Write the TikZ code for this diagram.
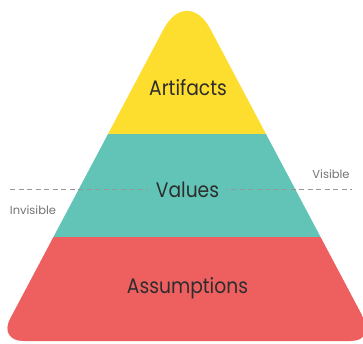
\documentclass[tikz,border=0pt]{standalone}
\usepackage{fontspec}
\setmainfont{Poppins}
\definecolor{pyellow}{RGB}{253,221,46}
\definecolor{pteal}{RGB}{98,196,182}
\definecolor{pred}{RGB}{238,96,96}
\definecolor{ptext}{RGB}{45,45,45}
\definecolor{pgray}{RGB}{115,115,115}
\definecolor{pdash}{RGB}{150,150,150}
\newcommand{\narrow}[1]{\scalebox{0.89}[1]{#1}}
\begin{document}
\begin{tikzpicture}[x=1pt,y=-1pt,
  layer/.style={font=\fontsize{21}{24}\selectfont, text=ptext, inner sep=2pt},
  side/.style={font=\fontsize{11.5}{13}\selectfont, text=pgray, inner sep=0pt},
  dashline/.style={draw=pdash, line width=0.8pt, dash pattern=on 5pt off 3.5pt}]
\useasboundingbox (0,0) rectangle (363,343);
\begin{scope}
  \clip (187,341) [rounded corners=25pt] -- (375.7,341) [rounded corners=50pt] -- (187,-15) [rounded corners=25pt] -- (-1.7,341) -- cycle;
  \fill[pyellow] (-10,-20) rectangle (380,134);
  \fill[pteal] (-10,134) rectangle (380,237);
  \fill[pred] (-10,237) rectangle (380,345);
\end{scope}
\coordinate (dl) at (10,189);
\coordinate (dr) at (352,189);
\draw[dashline] (dl) -- (dr);
\node[layer] (art) at (188,88) {\narrow{Artifacts}};
\node[layer, fill=pteal, inner xsep=8pt] (val) at (187.5,190) {\narrow{Values}};
\node[layer] (ass) at (187.5,288) {\narrow{Assumptions}};
\node[side] (vis) at (331,174) {Visible};
\node[side] (inv) at (33,210) {Invisible};
\end{tikzpicture}
\end{document}
